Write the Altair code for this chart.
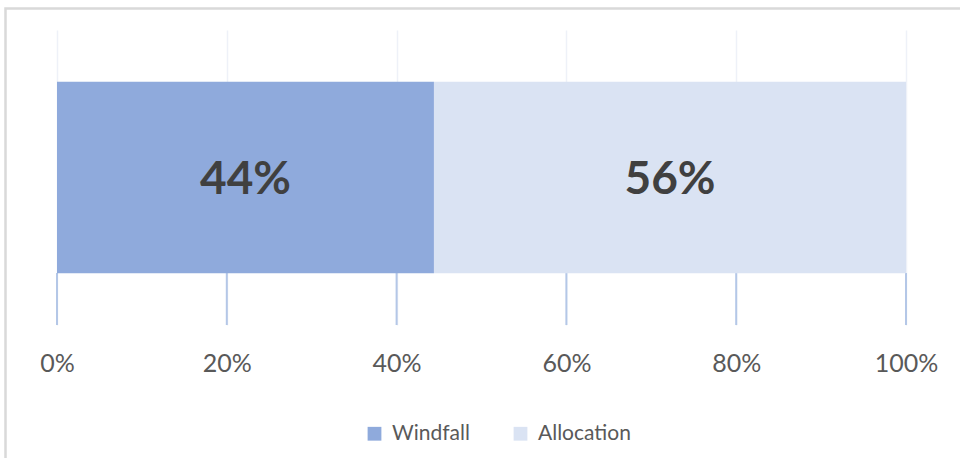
import altair as alt
import pandas as pd

categories = ["Windfall", "Allocation"]
shares = [44.4, 55.6]
tick_values = [0, 20, 40, 60, 80, 100]
colors = ["#8FAADC", "#DAE3F3"]

df = pd.DataFrame({"cat": categories, "share": shares, "idx": list(range(len(categories))), "row": ["r"] * len(categories)})
ticks_df = pd.DataFrame({"t": tick_values})

W, H = 849, 295
FONT = "Lato"

xscale = alt.Scale(domain=[0, 100], nice=False, zero=True)
yscale = alt.Scale(paddingInner=0, paddingOuter=0.27)

base = alt.Chart(df).transform_stack(
    stack="share", groupby=["row"], as_=["s0", "s1"], sort=[alt.SortField("idx")]
).transform_calculate(mid="(datum.s0 + datum.s1) / 2", lab="round(datum.share) + '%'")

bars = base.mark_bar(stroke=None).encode(
    x=alt.X("s0:Q", scale=xscale, axis=alt.Axis(
        values=tick_values, labelExpr="datum.value + '%'", title=None, domain=False,
        ticks=False, tickSize=0, grid=True, gridColor="#EEF1F8", gridWidth=1.5,
        labelFlush=False, labelOverlap=False,
        labelFont=FONT, labelFontSize=25, labelColor="#595959", labelPadding=26)),
    x2="s1:Q",
    y=alt.Y("row:N", scale=yscale, axis=None),
    color=alt.Color("cat:N", scale=alt.Scale(domain=categories, range=colors),
                    sort=categories,
                    legend=alt.Legend(title=None, orient="none", legendX=307, legendY=393,
                                      direction="horizontal", symbolType="square",
                                      symbolSize=190, symbolStrokeWidth=0, labelFont=FONT,
                                      labelFontSize=21, labelColor="#595959", labelOffset=7,
                                      columnPadding=40)),
    order=alt.Order("idx:Q"),
)

labels = base.mark_text(font=FONT, fontSize=46, fontWeight="bold", color="#404040", baseline="middle", dy=2).encode(
    x=alt.X("mid:Q", scale=xscale),
    y=alt.Y("row:N", scale=yscale, axis=None),
    text="lab:N",
)

low_rules = alt.Chart(ticks_df).mark_rule(color="#B4C7E7", strokeWidth=2).encode(
    x=alt.X("t:Q", scale=xscale),
    y=alt.value(243),
    y2=alt.value(H),
)

border = alt.Chart(pd.DataFrame({"a": [0]})).mark_rect(
    filled=False, stroke="#D9D9D9", strokeWidth=2.5, fill=None
).encode(x=alt.value(-51.5), y=alt.value(-21.5), x2=alt.value(960), y2=alt.value(500))

chart = alt.layer(border, low_rules, bars, labels).properties(
    width=W, height=H,
    autosize=alt.AutoSizeParams(type="none"),
    padding={"left": 57, "top": 30, "right": 54, "bottom": 133},
    background="white",
).configure_view(stroke=None)

chart.save("out.html", embed_options={"renderer": "svg", "actions": False})
